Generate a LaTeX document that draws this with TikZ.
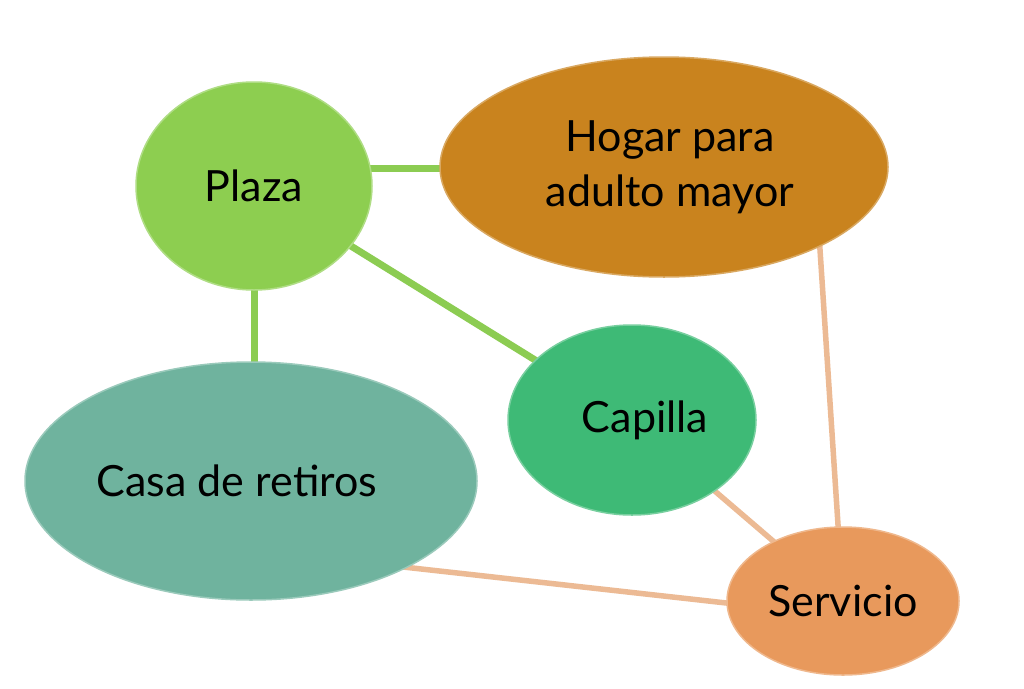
\documentclass[tikz,border=0pt]{standalone}
\usepackage{fontspec}
\setmainfont{Lato}
\usetikzlibrary{shapes.geometric,calc,backgrounds}
\definecolor{plazaC}{RGB}{141,206,80}
\definecolor{hogarC}{RGB}{201,131,30}
\definecolor{capC}{RGB}{62,186,118}
\definecolor{casaC}{RGB}{111,179,158}
\definecolor{servC}{RGB}{232,153,92}
\definecolor{lineG}{RGB}{140,204,82}
\definecolor{lineP}{RGB}{236,186,148}
\tikzset{
  blob/.style={ellipse, inner sep=0pt, draw=#1!70!white, line width=1.5pt, fill=#1, text=black,
    font=\fontsize{43}{55}\selectfont, align=center},
  glink/.style={draw=lineG, line width=7pt},
  plink/.style={draw=lineP, line width=5.5pt}
}
\begin{document}
\begin{tikzpicture}[x=1pt,y=-1pt]
\useasboundingbox (0,0) rectangle (1024,688);
\node[blob=plazaC, minimum width=236pt, minimum height=208pt] (plaza) at (254,186) {Plaza};
\node[blob=hogarC, minimum width=448pt, minimum height=220pt] (hogar) at (664,167) {\hspace*{12pt}Hogar para\\\hspace*{12pt}adulto mayor};
\node[blob=capC, minimum width=248pt, minimum height=190pt] (capilla) at (632,420) {\hspace*{26pt}Capilla};
\node[blob=casaC, minimum width=452pt, minimum height=238pt] (casa) at (251,481) {Casa de retiros\hspace*{28pt}};
\node[blob=servC, minimum width=232pt, minimum height=148pt] (serv) at (843,601) {Servicio};
\coordinate (pz) at ($(plaza.center)+(0,-18)$);
\coordinate (hg) at ($(hogar.center)!0.67!(hogar.east)$);
\coordinate (cs) at ($(casa.center)+(0,69)$);
\coordinate (sv) at ($(serv.center)+(0,15)$);
\begin{scope}[on background layer]
\fill[white] (0,0) rectangle (1024,688);
\draw[glink] (pz) -- (pz -| hogar.center);
\draw[glink] (plaza.center) -- (plaza.center |- casa.center);
\draw[glink] (plaza.center) -- (capilla.center);
\draw[plink] (hg) -- (serv.center);
\draw[plink] (capilla.center) -- (serv.center);
\draw[plink] (cs) -- (sv);
\end{scope}
\end{tikzpicture}
\end{document}
